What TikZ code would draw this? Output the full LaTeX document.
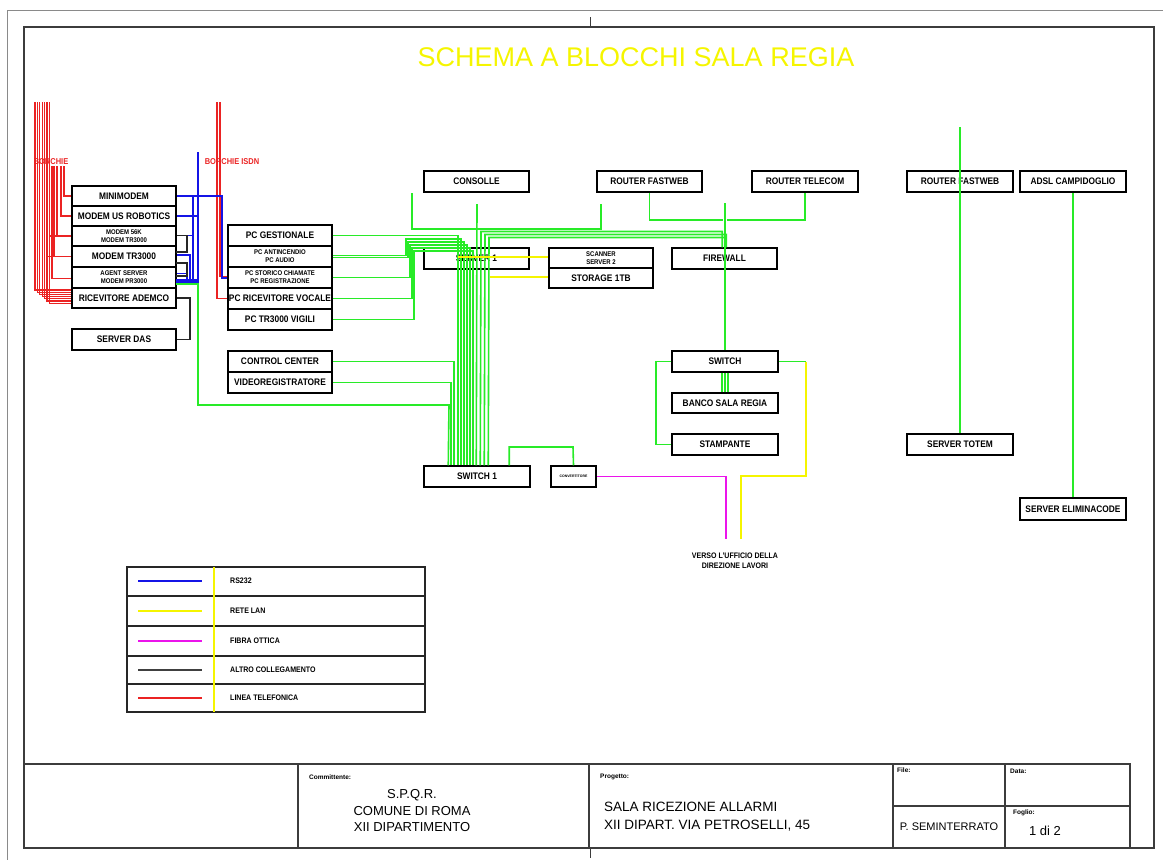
\documentclass[tikz,border=0pt]{standalone}
\usepackage{fontspec}
\setmainfont{Liberation Sans}
\usetikzlibrary{calc}
\definecolor{cgreen}{RGB}{40,235,40}
\definecolor{cyellow}{RGB}{245,245,0}
\definecolor{cblue}{RGB}{20,20,230}
\definecolor{cred}{RGB}{235,35,35}
\definecolor{cmag}{RGB}{235,20,235}
\definecolor{cframe}{RGB}{60,60,60}
\newcommand\nar[1]{\scalebox{0.88}[1]{#1}}
\newcommand\bx[6]{\node[box,minimum width={#4-#2},minimum height={#5-#3}] (#1) at ({(#2+#4)/2},{(#3+#5)/2}) {\nar{#6}};}
\begin{document}
\begin{tikzpicture}[x=1pt,y=-1pt,
  box/.style={draw=black,line width=1.5pt,inner sep=0pt,font=\fontsize{9.5}{10}\selectfont\bfseries},
  lbl/.style={inner sep=0pt,font=\fontsize{9.5}{10}\selectfont\bfseries},
  dbl/.style={inner sep=0pt,align=center,font=\fontsize{6.8}{8}\selectfont\bfseries},
  gl/.style={cgreen,line width=1.6pt},
  yl/.style={cyellow,line width=1.6pt},
  bl/.style={cblue,line width=1.5pt},
  rl/.style={cred,line width=1.3pt},
  ml/.style={cmag,line width=1.6pt},
  kl/.style={black!85,line width=1.4pt},
  tiny/.style={inner sep=0pt,font=\fontsize{6.5}{7}\selectfont\bfseries},
  tb/.style={inner sep=0pt,font=\fontsize{13}{16.5}\selectfont}]
\useasboundingbox (0,0) rectangle (1163,860);
% frames
\draw[cframe!60,line width=0.8pt] (7,860) -- (7,10) -- (1163,10);
\draw[cframe,line width=1.5pt] (24,27) rectangle (1154,848);
\draw[cframe,line width=1pt] (590,17) -- (590,27) (590,848) -- (590,858);
\node[text=cyellow,inner sep=0pt,font=\fontsize{27}{30}\selectfont] (title) at (636,57) {SCHEMA A BLOCCHI SALA REGIA};
% modem stack
\bx{m1}{72}{186}{176}{206}{MINIMODEM}
\bx{m2}{72}{206}{176}{226}{MODEM US ROBOTICS}
\bx{m3}{72}{226}{176}{246}{}
\bx{m4}{72}{246}{176}{267}{MODEM TR3000}
\bx{m5}{72}{267}{176}{288}{}
\bx{m6}{72}{288}{176}{308}{RICEVITORE ADEMCO}
\bx{das}{72}{329}{176}{350}{SERVER DAS}
\node[dbl] (m3t) at (m3) {\nar{MODEM 56K}\\\nar{MODEM TR3000}};
\node[dbl] (m5t) at (m5) {\nar{AGENT SERVER}\\\nar{MODEM PR3000}};
% PC stack
\bx{p1}{228}{225}{332}{246}{PC GESTIONALE}
\bx{p2}{228}{246}{332}{267}{}
\bx{p3}{228}{267}{332}{288}{}
\bx{p4}{228}{288}{332}{309}{PC RICEVITORE VOCALE}
\bx{p5}{228}{309}{332}{330}{PC TR3000 VIGILI}
\node[dbl] (p2t) at (p2) {\nar{PC ANTINCENDIO}\\\nar{PC AUDIO}};
\node[dbl] (p3t) at (p3) {\nar{PC STORICO CHIAMATE}\\\nar{PC REGISTRAZIONE}};
\bx{cc}{228}{351}{332}{372}{CONTROL CENTER}
\bx{vr}{228}{372}{332}{393}{VIDEOREGISTRATORE}
% centre
\bx{cons}{424}{171}{529}{192}{CONSOLLE}
\bx{rf1}{597}{171}{702}{192}{ROUTER FASTWEB}
\bx{rt}{752}{171}{858}{192}{ROUTER TELECOM}
\bx{s1}{424}{248}{529}{269}{SERVER 1}
\bx{s2}{549}{248}{653}{268}{}
\node[dbl] (s2t) at (s2) {\nar{SCANNER}\\\nar{SERVER 2}};
\bx{st}{549}{268}{653}{288}{STORAGE 1TB}
\bx{fw}{672}{248}{777}{269}{FIREWALL}
\bx{sw}{672}{351}{778}{372}{SWITCH}
\bx{banco}{672}{393}{778}{413}{BANCO SALA REGIA}
\bx{stamp}{672}{434}{778}{455}{STAMPANTE}
\bx{sw1}{424}{466}{530}{487}{SWITCH 1}
\node[box,minimum width=45,minimum height=21,font=\fontsize{3.5}{4}\selectfont\bfseries] (mc) at (573.5,476.5) {CONVERTITORE};
% right
\bx{rf2}{907}{171}{1013}{192}{ROUTER FASTWEB}
\bx{adsl}{1020}{171}{1126}{192}{ADSL CAMPIDOGLIO}
\bx{tot}{907}{434}{1013}{455}{SERVER TOTEM}
\bx{elim}{1020}{498}{1126}{520}{SERVER ELIMINACODE}
% labels
\node[text=cred,inner sep=0pt,font=\fontsize{8.5}{9}\selectfont\bfseries] (lb1) at (51,162) {\nar{BORCHIE}};
\node[text=cred,inner sep=0pt,font=\fontsize{8.5}{9}\selectfont\bfseries] (lb2) at (232,162) {\nar{BORCHIE ISDN}};
\node[lbl,align=center,font=\fontsize{8}{10}\selectfont\bfseries] (verso) at (735,561) {\nar{VERSO L'UFFICIO DELLA}\\\nar{DIREZIONE LAVORI}};
\coordinate (v1) at (726,539);
\coordinate (v2) at (741,539);

% ---- red lines (telephone)
\foreach \i in {0,...,6} {
  \draw[rl] ({35+2.4*\i},102) |- ($(m6.west)+(0,{-8+2.2*\i})$);
}
\draw[rl] (64,166) |- (m1.west);
\draw[rl] (61,166) |- (m2.west);
\draw[rl] (57,166) |- (m3.west);
\draw[rl,line width=1.8pt] (50,236) -- (m3.west);
\draw[rl] (54,166) |- (m4.west);
\draw[rl,line width=1.8pt] (46,256.5) -- (m4.west);
\draw[rl] (52,166) |- ($(m5.west)+(0,1)$);
\draw[rl] (217,102) |- (p4.west);
\draw[rl] (220,102) |- ($(p3.west)+(0,-1)$);

% ---- blue lines (RS232)
\draw[bl] (m1.east) -| (222,278) -- ($(p3.west)+(0,0.5)$);
\draw[bl] (m2.east) -- (199,216);
\draw[bl] (198,152) -- (198,282) -- (176,282);
\draw[bl] (193,196) -- (193,280);
\draw[bl] ($(m3.east)+(0,-0.5)$) -- (193,235.5);
\draw[bl,line width=2pt] ($(m4.east)+(0,-2)$) -| (190,281);
\draw[bl] ($(m5.east)+(0,-4)$) -| (187,280);
\draw[bl] (176,280) -- (198,280);

% ---- black lines (other)
\draw[kl] ($(m3.east)+(0,-0.5)$) -- (187,235.5) -- (187,252) -- (176,252);
\draw[kl] (176,263) -- (187,263) -- (187,276) -- (176,276);
\draw[kl] (m6.east) -- (190,298) |- (das.east);

% ---- green lines (LAN)
\draw[gl] (176,284) -- (198,284) |- (449,405) -- ($(sw1.north west)+(25,0)$);
\draw[gl] (vr.east) -| ($(sw1.north west)+(28,0)$);
\draw[gl] (cc.east) -| ($(sw1.north west)+(31,0)$);
\draw[gl] (p1.east) -| ($(sw1.north west)+(35,0)$);
\draw[gl] ($(p2.east)+(0,-1)$) -| (406,239) -| ($(sw1.north west)+(38,0)$);
\draw[gl] ($(p2.east)+(0,1)$) -| (408,242) -| ($(sw1.north west)+(41,0)$);
\draw[gl] (p3.east) -| (410,245) -| ($(sw1.north west)+(44,0)$);
\draw[gl] (p4.east) -| (412,248) -| ($(sw1.north west)+(47,0)$);
\draw[gl] (p5.east) -| (414,251) -| ($(sw1.north west)+(50,0)$);
\draw[gl] (477,204) -- ($(sw1.north west)+(53,0)$);
\coordinate (g1) at (412,193);
\coordinate (g2) at (601,204);
\draw[gl] (g1) |- (601,229) -- (g2);
\draw[gl] ($(fw.north west)+(51,0)$) |- (481,231.5) -- ($(sw1.north west)+(57,0)$);
\draw[gl] ($(fw.north west)+(55,0)$) |- (485,234.5) -- ($(sw1.north west)+(61,0)$);
\draw[gl] (725,237.5) -- (489,237.5) -- ($(sw1.north west)+(65,0)$);
\draw[gl] (725,203) -- (sw.north);
\draw[gl] (rf1.south) |- (723,220);
\draw[gl] (rt.south) |- (727,220);
\draw[gl] ($(sw.south)+(-3,0)$) -- ($(banco.north)+(-3,0)$);
\draw[gl] (sw.south) -- (banco.north);
\draw[gl] ($(sw.south)+(3,0)$) -- ($(banco.north)+(3,0)$);
\draw[gl] (sw.west) -- (656,361.5) |- (stamp.west);
\draw[gl] ($(sw1.north west)+(86,0)$) |- (573,447) -- (mc.north);
\draw[gl] (sw.east) -- (806,361.5);
\draw[gl] (960,127) -- (tot.north);
\draw[gl] (adsl.south) -- (elim.north);
% ---- yellow (LAN)
\draw[yl] (806,361.5) |- (741,476) -- (v2);
\draw[yl] (458,257) -- ($(s2.west)+(0,-1)$);
\draw[yl] (490,277) -- ($(st.west)+(0,-1)$);
% ---- magenta (fibre)
\draw[ml] (mc.east) -| (v1);

% ---- legend
\draw[black!85,line width=1.5pt] (127,567) rectangle (425,712);
\foreach \y in {596,626,656,684} \draw[black!85,line width=1.5pt] (127,\y) -- (425,\y);
\draw[yl] (214,567) -- (214,712);
\draw[bl] (138,581) -- (202,581);
\draw[yl] (138,611) -- (202,611);
\draw[ml] (138,641) -- (202,641);
\draw[kl,black!75] (138,670) -- (202,670);
\draw[rl,line width=1.5pt] (138,698) -- (202,698);
\node[lbl,anchor=west,font=\fontsize{8}{9}\selectfont\bfseries] (l1) at (230,581) {\nar{RS232}};
\node[lbl,anchor=west,font=\fontsize{8}{9}\selectfont\bfseries] (l2) at (230,611) {\nar{RETE LAN}};
\node[lbl,anchor=west,font=\fontsize{8}{9}\selectfont\bfseries] (l3) at (230,641) {\nar{FIBRA OTTICA}};
\node[lbl,anchor=west,font=\fontsize{8}{9}\selectfont\bfseries] (l4) at (230,670) {\nar{ALTRO COLLEGAMENTO}};
\node[lbl,anchor=west,font=\fontsize{8}{9}\selectfont\bfseries] (l5) at (230,698) {\nar{LINEA TELEFONICA}};

% ---- title block
\draw[cframe,line width=1.5pt] (24,764) rectangle (1130,848);
\draw[cframe,line width=1.5pt] (298,764) -- (298,848) (589,764) -- (589,848)
   (893,764) -- (893,848) (1005,764) -- (1005,848) (893,806) -- (1130,806);
\node[tiny,anchor=west] (comm) at (309,777) {Committente:};
\node[tb,align=center] (spqr) at (412,811) {S.P.Q.R.\\COMUNE DI ROMA\\XII DIPARTIMENTO};
\node[tiny,anchor=west] (prog) at (600,777) {Progetto:};
\node[tb,align=left,anchor=west,font=\fontsize{13.5}{18}\selectfont] (proj) at (604,817) {SALA RICEZIONE ALLARMI\\XII DIPART. VIA PETROSELLI, 45};
\node[tiny,anchor=west] (file) at (897,770) {File:};
\node[tb,font=\fontsize{11}{12}\selectfont] (sem) at (949,827) {P. SEMINTERRATO};
\node[tiny,anchor=west] (data) at (1010,771) {Data:};
\node[tiny,anchor=west] (fog) at (1013,813) {Foglio:};
\node[tb] (fg) at (1045,831) {1 di 2};
\end{tikzpicture}
\end{document}
